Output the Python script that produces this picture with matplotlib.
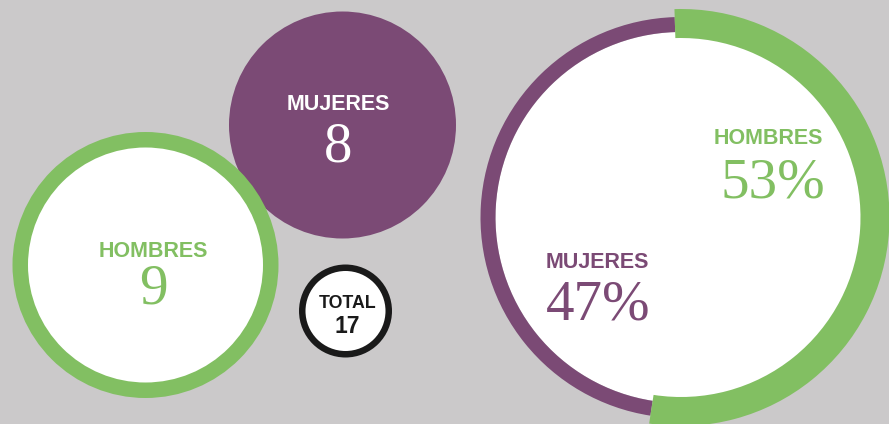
import matplotlib
matplotlib.use("Agg")
from matplotlib import pyplot as plt
from matplotlib.patches import Circle

labels = ["HOMBRES", "MUJERES"]
counts = [9, 8]
total_label = "TOTAL"

total = sum(counts)
percents = [round(c / total * 100) for c in counts]

bg = "#cbc9ca"
green = "#82bf62"
purple = "#7b4a75"
H = 424  # image height, used to flip y so coords read like the picture

sans = "Liberation Sans"
serif = "Liberation Serif"

fig = plt.figure(figsize=(8.89, 4.24), dpi=100, facecolor=bg)
ax = fig.add_axes([0, 0, 1, 1])
ax.set_facecolor(bg)

# purple filled circle (mujeres)
ax.add_patch(Circle((342.5, H - 125), 113.5, color=purple, lw=0))
ax.text(338.5, H - 110, labels[1], color="white", fontsize=15.5,
        fontweight="bold", family=sans, ha="center", va="baseline")
ax.text(338.5, H - 162, str(counts[1]), color="white", fontsize=41,
        family=serif, ha="center", va="baseline")

# green ring circle (hombres)
ax.add_patch(Circle((145.5, H - 265), 133, color=green, lw=0))
ax.add_patch(Circle((145.5, H - 265), 117.5, color="white", lw=0))
ax.text(153.5, H - 257, labels[0], color=green, fontsize=15.5,
        fontweight="bold", family=sans, ha="center", va="baseline")
ax.text(153.5, H - 303, str(counts[0]), color=green, fontsize=41,
        family=serif, ha="center", va="baseline")

# total circle
ax.add_patch(Circle((345.5, H - 311), 46.5, color="#1a1a1a", lw=0))
ax.add_patch(Circle((345.5, H - 311), 40, color="white", lw=0))
ax.text(347.5, H - 308, total_label, color="#1a1a1a", fontsize=12.8,
        fontweight="bold", family=sans, ha="center", va="baseline")
ax.text(347.5, H - 333, str(total), color="#1a1a1a", fontsize=16.5,
        fontweight="bold", family=sans, ha="center", va="baseline")

# big donut: green share thicker than purple share
cx, cy = 681, H - 217.5
ax.add_patch(Circle((cx, cy), 185.5, color="white", lw=0))
ax.pie(counts, radius=200.5, center=(cx, cy), startangle=91.8,
       counterclock=False, colors=["none", purple],
       wedgeprops=dict(width=15, edgecolor="none", linewidth=0))
ax.pie(counts, radius=208.5, center=(cx, cy), startangle=91.8,
       counterclock=False, colors=[green, "none"],
       wedgeprops=dict(width=29, edgecolor="none", linewidth=0))

ax.text(823, H - 144, labels[0], color=green, fontsize=15.5,
        fontweight="bold", family=sans, ha="right", va="baseline")
ax.text(825, H - 197, f"{percents[0]}%", color=green, fontsize=41,
        family=serif, ha="right", va="baseline")
ax.text(546, H - 268, labels[1], color=purple, fontsize=15.5,
        fontweight="bold", family=sans, ha="left", va="baseline")
ax.text(546, H - 320, f"{percents[1]}%", color=purple, fontsize=41,
        family=serif, ha="left", va="baseline")

ax.set_xlim(0, 889)
ax.set_ylim(0, H)
ax.set_aspect("equal")
ax.axis("off")

fig.savefig("out.png", dpi=100, facecolor=bg)
